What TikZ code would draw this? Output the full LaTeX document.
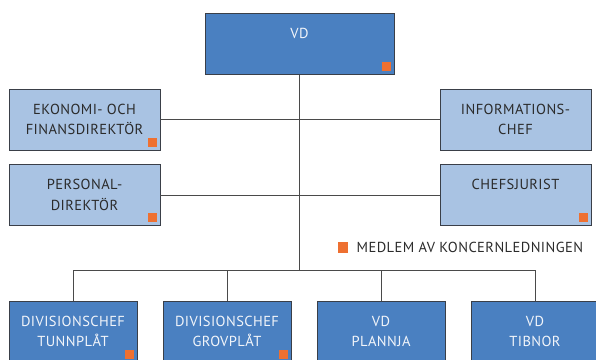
\documentclass[tikz,border=0pt]{standalone}
\usepackage{fontspec}
\setmainfont[LetterSpace=3]{PT Sans}
\usetikzlibrary{positioning}
\definecolor{orgDark}{HTML}{4A80C1}
\definecolor{orgLight}{HTML}{A9C3E3}
\definecolor{orgOrange}{HTML}{EE7031}
\definecolor{orgEdge}{HTML}{3A3F48}
\definecolor{orgLine}{HTML}{4A4A4A}
\definecolor{orgInk}{HTML}{2B2B2B}
\definecolor{orgWhite}{HTML}{F2F5FA}
\tikzset{
  org box/.style={rectangle, draw=orgEdge, line width=0.8pt, inner sep=0pt, outer sep=0pt, align=center, minimum height=61pt, font=\fontsize{14.5}{20.5}\selectfont},
  org light/.style={org box, fill=orgLight, text=orgInk, minimum width=151pt},
  org dark/.style={org box, fill=orgDark, text=orgWhite, minimum width=128pt},
  org line/.style={draw=orgLine, line width=0.9pt},
  org member/.style={fill=orgOrange},
}
\newcommand{\orgmember}[1]{\fill[org member] ([shift={(-3.5pt,3.5pt)}]#1.south east) rectangle ++(-9pt,9pt);}

\begin{document}
\begin{tikzpicture}[x=1pt, y=1pt]
  \useasboundingbox (0,0) rectangle (596,-359);
  \clip (0,0) rectangle (596,-359);
  % Top management
  \node[org box, fill=orgDark, text=orgWhite, minimum width=189pt] (vd) at (299.5,-44) {VD\\\mbox{}};
  \node[org light] (ekonomi) at (84.5,-119.5) {EKONOMI- OCH\\FINANSDIREKTÖR};
  \node[org light] (personal) at (84.5,-195) {PERSONAL-\\DIREKTÖR};
  \node[org light] (info) at (515.5,-119.5) {INFORMATIONS-\\CHEF};
  \node[org light] (jurist) at (515.5,-195) {CHEFSJURIST\\\mbox{}};
  % Divisions and subsidiaries
  \node[org dark] (tunn) at (73,-331.5) {DIVISIONSCHEF\\TUNNPLÅT};
  \node[org dark] (grov) at (227,-331.5) {DIVISIONSCHEF\\GROVPLÅT};
  \node[org dark] (plannja) at (381,-331.5) {VD\\PLANNJA};
  \node[org dark] (tibnor) at (535,-331.5) {VD\\TIBNOR};
  % Connectors
  \coordinate (bus) at (299.5,-270);
  \draw[org line] (vd.south) -- (bus);
  \draw[org line] (ekonomi.east) -- (info.west);
  \draw[org line] (personal.east) -- (jurist.west);
  \foreach \n in {tunn,grov,plannja,tibnor}
    \draw[org line] (bus) -| (\n.north);
  % Group management markers
  \foreach \n in {vd,ekonomi,personal,jurist,tunn,grov}
    \orgmember{\n}
  % Legend
  \node[org member, minimum size=10.5pt, inner sep=0pt] (key) at (343,-247.5) {};
  \node[right=8pt of key, inner sep=0pt, text=orgInk, font=\fontsize{14.5}{16}\selectfont] (legend) {MEDLEM AV KONCERNLEDNINGEN};
\end{tikzpicture}
\end{document}
